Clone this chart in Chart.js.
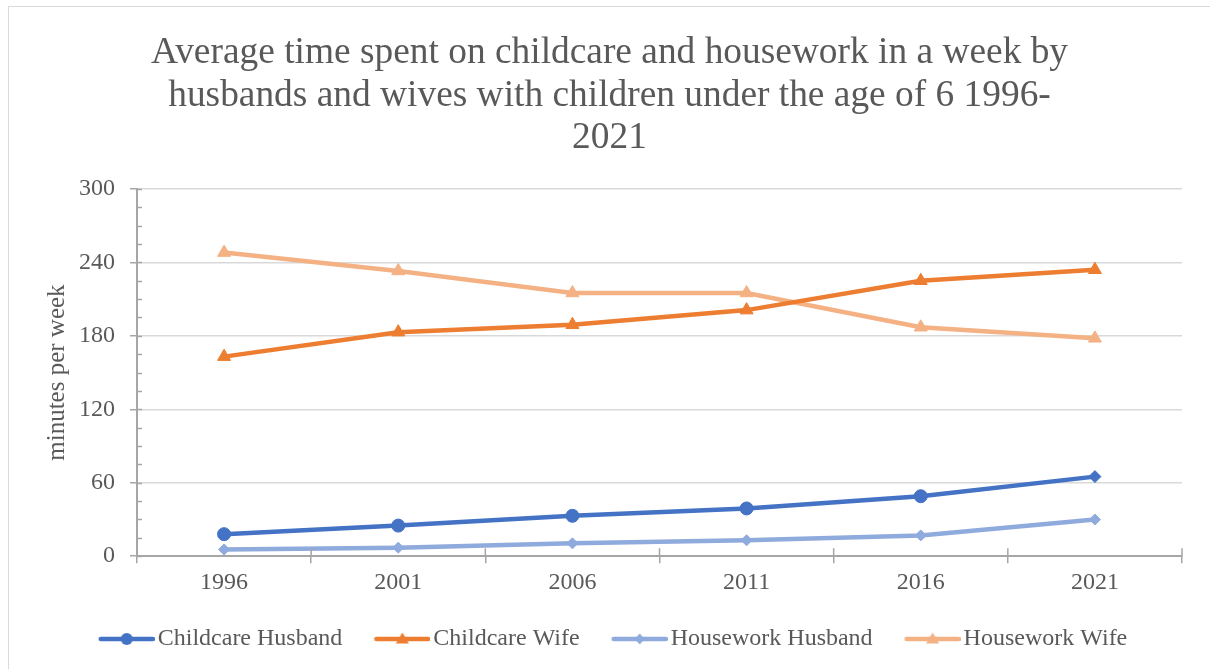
<!DOCTYPE html>
<html>
<head>
<meta charset="utf-8">
<script src="https://cdn.jsdelivr.net/npm/chart.js@4"></script>
<style>
  html, body { margin: 0; padding: 0; background: #fff; }
  #wrap { position: relative; width: 1210px; height: 669px; }
  #frame { position: absolute; left: 8px; top: 6px; width: 1220px; height: 700px;
           border-left: 1px solid #d9d9d9; border-top: 1px solid #d9d9d9; pointer-events: none; }
</style>
</head>
<body>
<div id="wrap">
  <canvas id="grafico"></canvas>
  <div id="frame"></div>
</div>
<script>
// dados do grafico
var anos = ['1996', '2001', '2006', '2011', '2016', '2021'];
var childcareHusband = [18, 25, 33, 39, 49, 65];
var childcareWife = [163, 183, 189, 201, 225, 234];
var houseworkHusband = [5.5, 7, 10.5, 13, 17, 30];
var houseworkWife = [248, 233, 215, 215, 187, 178];
var yTicks = [0, 60, 120, 180, 240, 300];

var serif = "'Liberation Serif', 'Times New Roman', serif";
var cinza = '#595959';

// desenha o simbolo da legenda (linha + marcador), com margem vazia a esquerda
function simboloLegenda(cor, estilo) {
  var c = document.createElement('canvas');
  c.width = 72; c.height = 18;
  var g = c.getContext('2d');
  var m = 44; // meio da linha visivel
  g.strokeStyle = cor; g.fillStyle = cor;
  g.lineWidth = 4.5; g.lineCap = 'round';
  g.beginPath(); g.moveTo(18, 9); g.lineTo(70, 9); g.stroke();
  g.beginPath();
  if (estilo === 'circle') {
    g.arc(m, 9, 6, 0, Math.PI * 2);
  } else if (estilo === 'triangle') {
    g.moveTo(m, 2.5); g.lineTo(m + 6.5, 13.5); g.lineTo(m - 6.5, 13.5); g.closePath();
  } else {
    g.moveTo(m, 3.5); g.lineTo(m + 5, 9); g.lineTo(m, 14.5); g.lineTo(m - 5, 9); g.closePath();
  }
  g.fill();
  return c;
}

var series = [
  { label: 'Childcare Husband', data: childcareHusband, cor: '#4472C4', estilo: ['circle', 'circle', 'circle', 'circle', 'circle', 'rectRot'], raio: [6.5, 6.5, 6.5, 6.5, 6.5, 6], legenda: 'circle' },
  { label: 'Childcare Wife', data: childcareWife, cor: '#ED7D31', estilo: 'triangle', raio: 7.5, legenda: 'triangle' },
  { label: 'Housework Husband', data: houseworkHusband, cor: '#8FAADC', estilo: 'rectRot', raio: 5.5, legenda: 'rectRot' },
  { label: 'Housework Wife', data: houseworkWife, cor: '#F4B183', estilo: 'triangle', raio: 7.5, legenda: 'triangle' }
];

// marcas menores nos eixos
var marcasMenores = {
  id: 'marcasMenores',
  afterDraw: function (chart) {
    var ctx = chart.ctx, x = chart.scales.x, y = chart.scales.y;
    ctx.save();
    ctx.strokeStyle = '#a6a6a6';
    ctx.lineWidth = 1.5;
    ctx.beginPath();
    for (var v = 0; v <= 300; v += 15) {
      var py = Math.round(y.getPixelForValue(v)) + 0.5;
      ctx.moveTo(x.left, py); ctx.lineTo(x.left + 5, py);
    }
    var bordas = [x.left, x.right];
    for (var i = 1; i < anos.length; i++) {
      bordas.push((x.getPixelForValue(i - 1) + x.getPixelForValue(i)) / 2);
    }
    bordas.forEach(function (bx) {
      ctx.moveTo(bx, y.bottom); ctx.lineTo(bx, y.bottom - 8);
    });
    ctx.stroke();
    ctx.restore();
  }
};

var ctx = document.getElementById('grafico').getContext('2d');
new Chart(ctx, {
  type: 'line',
  data: {
    labels: anos,
    datasets: series.map(function (s) {
      return {
        label: s.label,
        data: s.data,
        borderColor: s.cor,
        backgroundColor: s.cor,
        borderWidth: 4.5,
        pointStyle: s.estilo,
        pointRadius: s.raio,
        pointBorderWidth: 1,
        tension: 0,
        legendImg: simboloLegenda(s.cor, s.legenda)
      };
    })
  },
  options: {
    responsive: true,
    maintainAspectRatio: false,
    animation: false,
    layout: { padding: { left: 9, right: 0, top: 10, bottom: 8 } },
    plugins: {
      title: {
        display: true,
        text: ['Average time spent on childcare and housework in a week by',
               'husbands and wives with children under the age of 6 1996-',
               '2021'],
        color: cinza,
        font: { family: serif, size: 37.4, weight: 'normal', lineHeight: 1.14 },
        padding: { top: 22, bottom: 29 }
      },
      legend: {
        display: true,
        position: 'bottom',
        labels: {
          color: cinza,
          font: { family: serif, size: 24 },
          usePointStyle: true,
          pointStyleWidth: 54,
          padding: 25,
          generateLabels: function (chart) {
            return chart.data.datasets.map(function (d, i) {
              return {
                text: d.label,
                fillStyle: d.borderColor,
                strokeStyle: d.borderColor,
                lineWidth: 0,
                pointStyle: d.legendImg,
                fontColor: cinza,
                hidden: false,
                datasetIndex: i
              };
            });
          }
        }
      },
      tooltip: { enabled: false }
    },
    scales: {
      x: {
        offset: true,
        grid: { display: true, drawOnChartArea: false, offset: true, tickLength: 7, color: '#a6a6a6', lineWidth: 1.5 },
        border: { display: true, color: '#a6a6a6', width: 2 },
        ticks: { color: cinza, font: { family: serif, size: 24 }, padding: 5 }
      },
      y: {
        min: 0,
        max: 300,
        afterBuildTicks: function (scale) {
          scale.ticks = yTicks.map(function (v) { return { value: v }; });
        },
        afterFit: function (scale) { scale.width = 128; },
        grid: { color: '#d9d9d9', lineWidth: 1.5, tickLength: 7, tickColor: '#a6a6a6' },
        border: { display: true, color: '#a6a6a6', width: 2 },
        ticks: { color: cinza, font: { family: serif, size: 24 }, padding: 15 },
        title: {
          display: true,
          text: 'minutes per week',
          color: cinza,
          font: { family: serif, size: 25 },
          padding: { top: 33, bottom: 0 }
        }
      },
      // eixo vazio so para reservar a margem da direita
      yDireita: {
        position: 'right',
        min: 0,
        max: 300,
        grid: { display: false, drawOnChartArea: false },
        border: { display: false },
        ticks: { display: false },
        afterFit: function (scale) { scale.width = 28; }
      }
    }
  },
  plugins: [marcasMenores]
});
</script>
</body>
</html>
